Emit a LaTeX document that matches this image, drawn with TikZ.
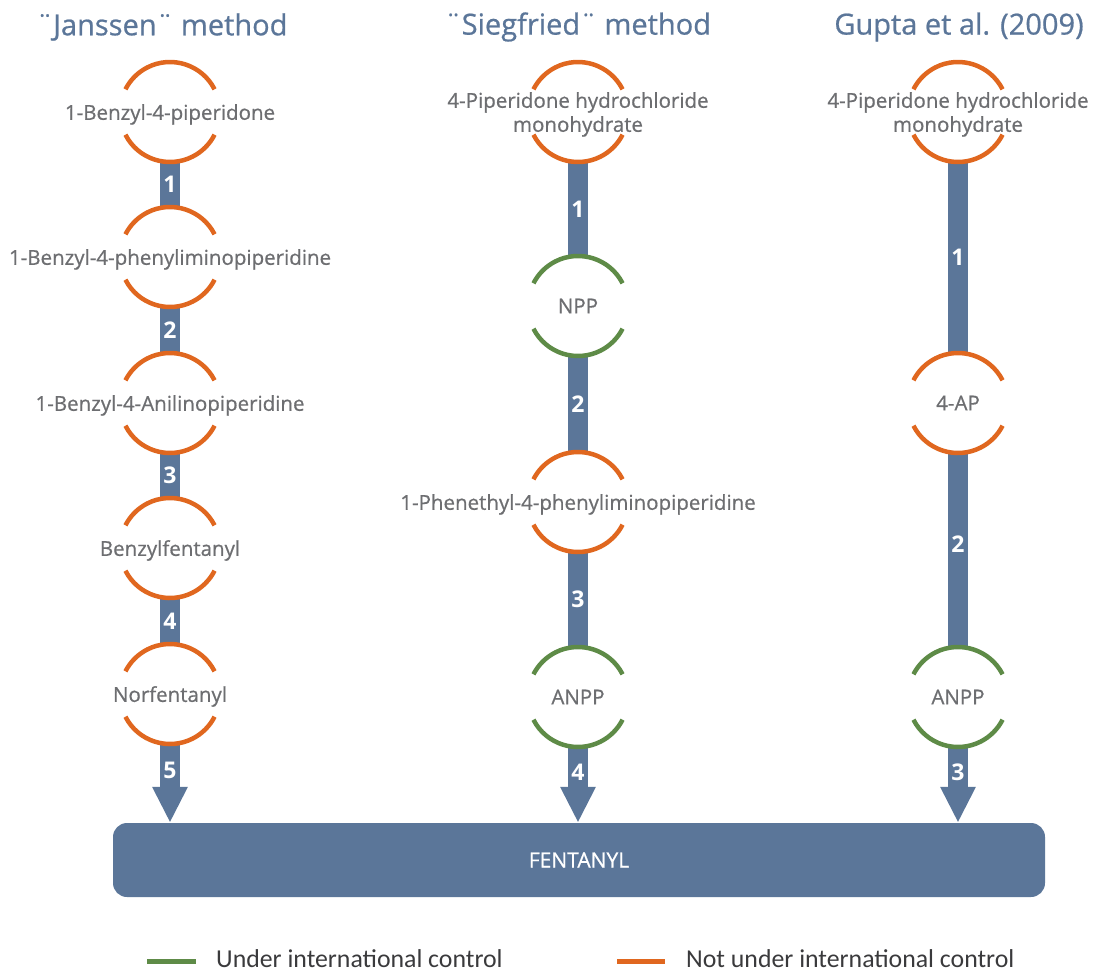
\documentclass[tikz,border=0pt]{standalone}
\usepackage{fontspec}
\setmainfont{Open Sans}
\newfontface\labelfont{Open Sans}[FakeBold=0.7]
\newfontfamily\legendfont{Carlito}
\usetikzlibrary{arrows.meta}
\definecolor{steel}{HTML}{5B7699}
\definecolor{ctrl}{HTML}{5E8B47}
\definecolor{free}{HTML}{E0671F}
\definecolor{labelgray}{HTML}{6D6E71}
\definecolor{legendgray}{HTML}{3A3A3C}

\tikzset{
  stage/.style={rectangle, minimum width=100pt, minimum height=100pt, inner sep=0pt,
    align=center, text depth=0pt, text=labelgray, font=\labelfont\fontsize{20.5}{24}\selectfont},
  ring/.style={line width=4.5pt},
  stepbar/.style={draw=steel, line width=20pt},
  stepnum/.style={text=white, font=\bfseries\fontsize{23}{23}\selectfont},
  title/.style={text=steel, font=\labelfont\fontsize{29}{31}\selectfont},
  tip/.style={-{Triangle[width=33pt,length=36pt]}},
  legline/.style={line width=5pt},
  legtext/.style={anchor=base west, inner sep=0pt, text=legendgray, font=\legendfont\fontsize{25.8}{27}\selectfont},
}
% open ring around a stage: upper and lower arcs, cut at the text line
\newcommand\halfrings[2]{%
  \draw[ring,#2] (#1.center) ++(27:50pt) arc[start angle=27,end angle=153,radius=50pt];
  \draw[ring,#2] (#1.center) ++(207:50pt) arc[start angle=207,end angle=333,radius=50pt];
}

\begin{document}
\begin{tikzpicture}[x=1pt,y=-1pt]
\useasboundingbox (0,0) rectangle (1094,972);

% column titles
\node[title] (tj) at (162,27) {¨Janssen¨ method};
\node[title] (ts) at (578,27) {¨Siegfried¨ method};
\node[title] (tg) at (959,27) {Gupta et al. (2009)};

% Janssen route
\node[stage] (j1) at (170,112) {1-Benzyl-4-piperidone};
\node[stage] (j2) at (170,257) {1-Benzyl-4-phenyliminopiperidine};
\node[stage] (j3) at (170,403) {1-Benzyl-4-Anilinopiperidine};
\node[stage] (j4) at (170,548) {Benzylfentanyl};
\node[stage] (j5) at (170,694) {Norfentanyl};

% Siegfried route
\node[stage] (s1) at (578,112) {4-Piperidone hydrochloride\\monohydrate};
\node[stage] (s2) at (578,306) {NPP};
\node[stage] (s3) at (578,502) {1-Phenethyl-4-phenyliminopiperidine};
\node[stage] (s4) at (578,697) {ANPP};

% Gupta route
\node[stage] (g1) at (958,112) {4-Piperidone hydrochloride\\monohydrate};
\node[stage] (g2) at (958,403) {4-AP};
\node[stage] (g3) at (958,697) {ANPP};

% product
\node[rectangle, rounded corners=14pt, fill=steel, minimum width=932pt, minimum height=74pt,
      text=white, font=\labelfont\fontsize{21}{23}\selectfont] (fent) at (579,860) {FENTANYL};

% reaction steps
\draw[stepbar] (j1.south) -- (j2.north) node[midway, stepnum] {1};
\draw[stepbar] (j2.south) -- (j3.north) node[midway, stepnum] {2};
\draw[stepbar] (j3.south) -- (j4.north) node[midway, stepnum] {3};
\draw[stepbar] (j4.south) -- (j5.north) node[midway, stepnum] {4};
\draw[stepbar, tip] (j5.south) -- (j5.south |- fent.north) node[pos=0.33, stepnum] {5};

\draw[stepbar] (s1.south) -- (s2.north) node[midway, stepnum] {1};
\draw[stepbar] (s2.south) -- (s3.north) node[midway, stepnum] {2};
\draw[stepbar] (s3.south) -- (s4.north) node[midway, stepnum] {3};
\draw[stepbar, tip] (s4.south) -- (s4.south |- fent.north) node[pos=0.33, stepnum] {4};

\draw[stepbar] (g1.south) -- (g2.north) node[midway, stepnum] {1};
\draw[stepbar] (g2.south) -- (g3.north) node[pos=0.47, stepnum] {2};
\draw[stepbar, tip] (g3.south) -- (g3.south |- fent.north) node[pos=0.33, stepnum] {3};

% rings: green = under international control, orange = not
\halfrings{j1}{free}
\halfrings{j2}{free}
\halfrings{j3}{free}
\halfrings{j4}{free}
\halfrings{j5}{free}
\halfrings{s1}{free}
\halfrings{s2}{ctrl}
\halfrings{s3}{free}
\halfrings{s4}{ctrl}
\halfrings{g1}{free}
\halfrings{g2}{free}
\halfrings{g3}{ctrl}

% legend
\coordinate (lg1) at (147,961);
\coordinate (lg2) at (196,961);
\coordinate (lo1) at (617,961);
\coordinate (lo2) at (665,961);
\draw[legline, ctrl] (lg1) -- (lg2);
\draw[legline, free] (lo1) -- (lo2);
\node[legtext] (lgt) at (216,967) {Under international control};
\node[legtext] (lot) at (686,967) {Not under international control};
\end{tikzpicture}
\end{document}
